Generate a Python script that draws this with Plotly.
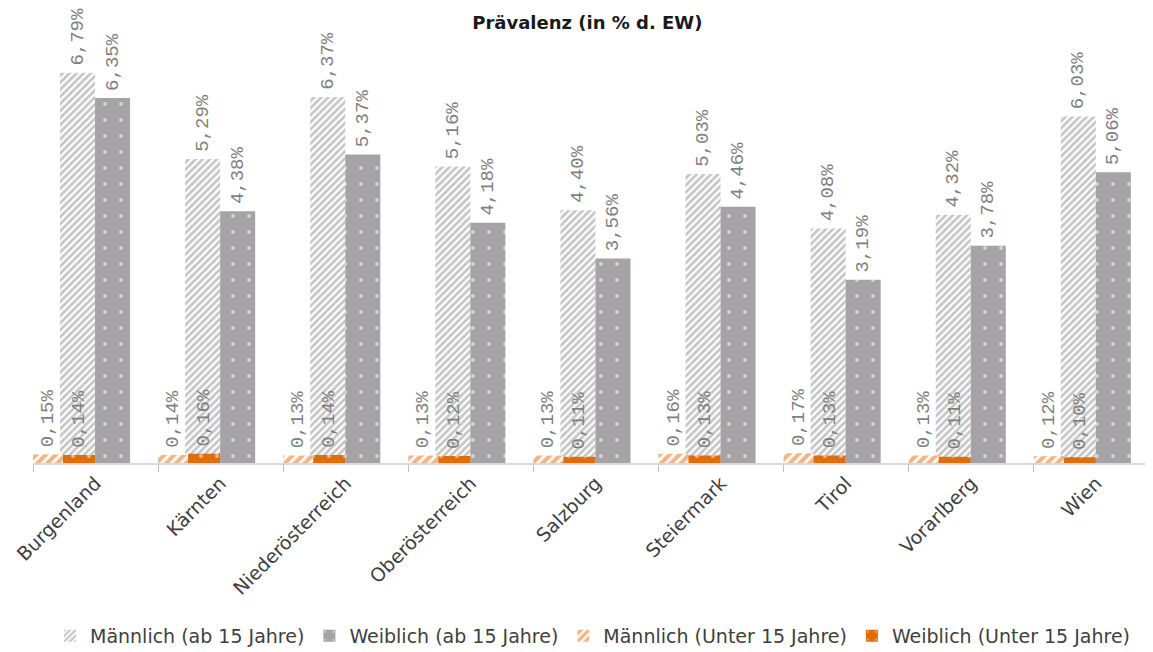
import plotly.graph_objects as go

categories = ["Burgenland", "Kärnten", "Niederösterreich", "Oberösterreich", "Salzburg",
              "Steiermark", "Tirol", "Vorarlberg", "Wien"]
maennlich_ab15 = [6.79, 5.29, 6.37, 5.16, 4.40, 5.03, 4.08, 4.32, 6.03]
weiblich_ab15 = [6.35, 4.38, 5.37, 4.18, 3.56, 4.46, 3.19, 3.78, 5.06]
maennlich_u15 = [0.15, 0.14, 0.13, 0.13, 0.13, 0.16, 0.17, 0.13, 0.12]
weiblich_u15 = [0.14, 0.16, 0.14, 0.12, 0.11, 0.13, 0.13, 0.11, 0.10]

GRAY = "#a5a3a6"
HATCH = "#8e8e8e"
ORANGE = "#e36c0a"
LABEL = "#7f7f7f"

def fmt(vals):
    return ["<span style='font-size:7px'> </span>" + f"{v:.2f}%".replace(".", ",") for v in vals]

lab_font = dict(family="Liberation Mono, DejaVu Sans Mono, monospace", size=19, color=LABEL)

fig = go.Figure()
fig.add_trace(go.Bar(
    x=categories, y=maennlich_ab15, name="Männlich (ab 15 Jahre)",
    offset=-0.284, width=0.28,
    marker=dict(color="white", line=dict(width=0),
                pattern=dict(shape="/", fgcolor=HATCH, bgcolor="white", size=5, solidity=0.55)),
    text=fmt(maennlich_ab15), textposition="outside", textangle=-90, textfont=lab_font,
    constraintext="none", cliponaxis=False))
fig.add_trace(go.Bar(
    x=categories, y=weiblich_ab15, name="Weiblich (ab 15 Jahre)",
    offset=-0.004, width=0.28,
    marker=dict(color=GRAY, line=dict(width=0),
                pattern=dict(shape=".", fgcolor="white", bgcolor=GRAY, size=16, solidity=0.05)),
    text=fmt(weiblich_ab15), textposition="outside", textangle=-90, textfont=lab_font,
    constraintext="none", cliponaxis=False))
fig.add_trace(go.Bar(
    x=categories, y=maennlich_u15, name="Männlich (Unter 15 Jahre)",
    offset=-0.5, width=0.24,
    marker=dict(color="white", line=dict(width=0),
                pattern=dict(shape="/", fgcolor=ORANGE, bgcolor="white", size=7, solidity=0.6)),
    text=fmt(maennlich_u15), textposition="outside", textangle=-90, textfont=lab_font,
    constraintext="none", cliponaxis=False))
fig.add_trace(go.Bar(
    x=categories, y=weiblich_u15, name="Weiblich (Unter 15 Jahre)",
    offset=-0.26, width=0.256,
    marker=dict(color=ORANGE, line=dict(width=0),
                pattern=dict(shape=".", fgcolor="white", bgcolor=ORANGE, size=16, solidity=0.05)),
    text=fmt(weiblich_u15), textposition="outside", textangle=-90, textfont=lab_font,
    constraintext="none", cliponaxis=False))

fig.update_layout(
    width=1145, height=644,
    barmode="overlay",
    paper_bgcolor="white", plot_bgcolor="white",
    margin=dict(l=25, r=0, t=24, b=189, autoexpand=False),
    title=dict(text="<b>Prävalenz (in % d. EW)</b>", x=0.506, xanchor="center", y=0.977, yanchor="middle",
               font=dict(family="DejaVu Sans, sans-serif", size=18, color="#1a1a1a")),
    xaxis=dict(range=[-0.5, 8.453], showline=True, linecolor="#d9d9d9", linewidth=1.5,
               ticks="outside", tickson="boundaries", ticklen=7, tickcolor="#bfbfbf",
               tickangle=-45, showgrid=False, automargin=False,
               tickfont=dict(family="DejaVu Sans, sans-serif", size=19, color="#404040")),
    yaxis=dict(range=[0, 7.5], visible=False, showgrid=False, automargin=False),
    legend=dict(orientation="h", x=0.5, xanchor="center", y=-0.401, yanchor="middle",
                font=dict(family="DejaVu Sans, sans-serif", size=19, color="#404040"),
                itemwidth=30, traceorder="normal"),
    showlegend=True,
)

fig.write_html("out.html")
